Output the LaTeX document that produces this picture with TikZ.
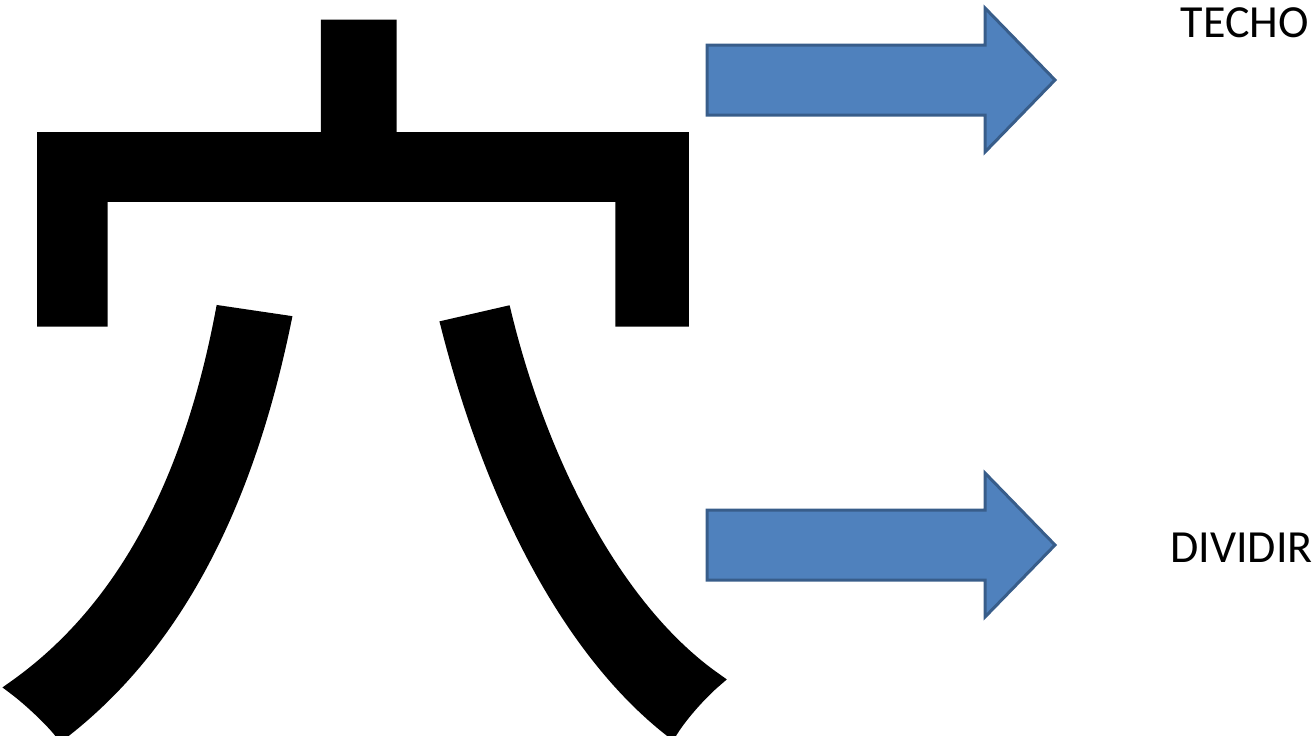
\documentclass[tikz,border=0pt]{standalone}
\usepackage{fontspec}
\setmainfont{Carlito}
\newfontfamily\cjkfont[FakeBold=1.8]{Noto Sans CJK JP}
\definecolor{arrfill}{HTML}{4F81BD}
\definecolor{arrline}{HTML}{385D8A}
\begin{document}
\begin{tikzpicture}[x=1pt,y=-1pt,
  blockarrow/.style={fill=arrfill,draw=arrline,line width=3pt,line join=miter},
  label/.style={font=\fontsize{46}{46}\selectfont,inner sep=0pt,anchor=base east}]
\useasboundingbox (0,0) rectangle (1315,736);
\node[inner sep=0pt,anchor=base west,font=\cjkfont\fontsize{765}{765}\selectfont] (kanji) at (-22,670) {穴};
% top arrow
\draw[blockarrow] (707,45) -- (985,45) -- (985,8) -- (1055,80) -- (985,152) -- (985,115) -- (707,115) -- cycle;
% bottom arrow
\draw[blockarrow] (707,510) -- (985,510) -- (985,473) -- (1055,545) -- (985,617) -- (985,580) -- (707,580) -- cycle;
\node[label] (techo) at (1309,37) {TECHO};
\node[label] (dividir) at (1313,562) {DIVIDIR};
\end{tikzpicture}
\end{document}
